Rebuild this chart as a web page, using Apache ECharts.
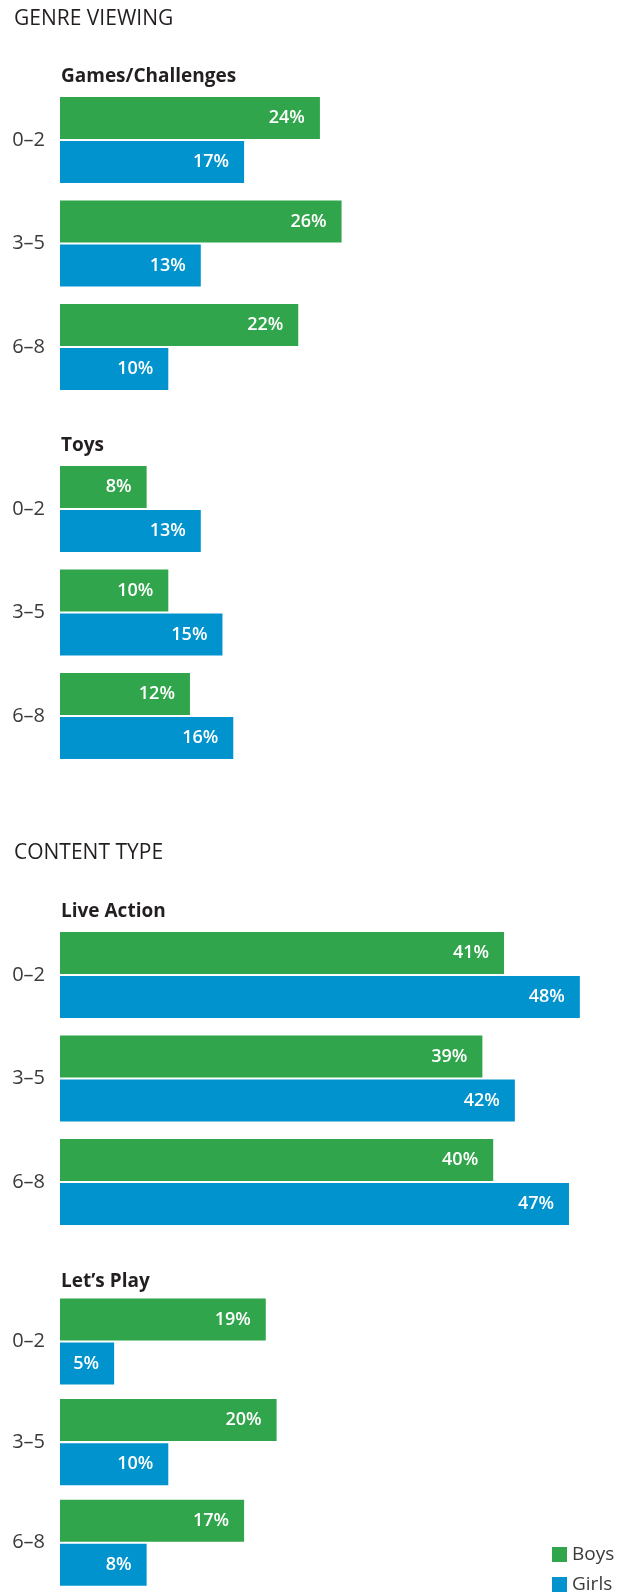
<!DOCTYPE html>
<html>
<head>
<meta charset="utf-8">
<script src="https://cdn.jsdelivr.net/npm/echarts@6/dist/echarts.min.js"></script>
<style>
html,body{margin:0;padding:0;background:#fff;}
#c{width:619px;height:1593px;}
</style>
</head>
<body>
<div id="c"></div>
<script>
const ageGroups = ['0–2', '3–5', '6–8'];
const sectionTitles = ['GENRE VIEWING', 'CONTENT TYPE'];
const panelTitles = ['Games/Challenges', 'Toys', 'Live Action', 'Let’s Play'];
const gamesBoys = [24, 26, 22];
const gamesGirls = [17, 13, 10];
const toysBoys = [8, 10, 12];
const toysGirls = [13, 15, 16];
const liveBoys = [41, 39, 40];
const liveGirls = [48, 42, 47];
const playBoys = [19, 20, 17];
const playGirls = [5, 10, 8];
const seriesNames = ['Boys', 'Girls'];

const panels = [
  { boys: gamesBoys, girls: gamesGirls, top: 88.25, titleY: 75 },
  { boys: toysBoys, girls: toysGirls, top: 457.25, titleY: 444 },
  { boys: liveBoys, girls: liveGirls, top: 923.25, titleY: 910 },
  { boys: playBoys, girls: playGirls, top: 1291.25, titleY: 1280 }
];
const sectionY = [19, 853];

const GREEN = '#31a54b';
const BLUE = '#0093cd';
const FONT = '"Open Sans", "Noto Sans", sans-serif';

const grids = [], xAxes = [], yAxes = [], series = [], graphics = [];
panels.forEach((p, i) => {
  grids.push({ left: 60, width: 541.5, top: p.top, height: 310.5 });
  xAxes.push({ gridIndex: i, type: 'value', min: 0, max: 50, show: false });
  yAxes.push({
    gridIndex: i, type: 'category', data: ageGroups, inverse: true,
    axisLine: { show: false }, axisTick: { show: false }, splitLine: { show: false },
    axisLabel: { margin: 15, fontSize: 20, color: '#3a3a3a', fontFamily: FONT }
  });
  const lbl = {
    show: true, position: 'insideRight', distance: 15, formatter: '{c}%',
    color: '#fff', fontSize: 18, fontWeight: 600, fontFamily: FONT
  };
  series.push({
    name: seriesNames[0], type: 'bar', xAxisIndex: i, yAxisIndex: i,
    data: p.boys, barWidth: 42, barGap: '5%', itemStyle: { color: GREEN }, label: lbl, silent: true
  });
  series.push({
    name: seriesNames[1], type: 'bar', xAxisIndex: i, yAxisIndex: i,
    data: p.girls, barWidth: 42, barGap: '5%', itemStyle: { color: BLUE }, label: lbl, silent: true
  });
  graphics.push({
    type: 'text', left: 61, top: p.titleY - 8,
    style: { text: panelTitles[i], fontSize: 19, fontWeight: 'bold', fontFamily: FONT, fill: '#231f20' }
  });
});
sectionTitles.forEach((t, i) => {
  graphics.push({
    type: 'text', left: 14, top: sectionY[i] - 10,
    style: { text: t, fontSize: 21, fontFamily: FONT, fill: '#231f20' }
  });
});

const legendCommon = {
  orient: 'vertical', left: 552, padding: 0, icon: 'rect', itemWidth: 15, itemHeight: 15,
  textStyle: { fontSize: 19, color: '#3a3a3a', fontFamily: FONT }
};

const chart = echarts.init(document.getElementById('c'), null, { renderer: 'canvas' });
chart.setOption({
  animation: false,
  backgroundColor: '#fff',
  grid: grids,
  xAxis: xAxes,
  yAxis: yAxes,
  series: series,
  graphic: graphics,
  legend: [
    Object.assign({}, legendCommon, { data: [seriesNames[0]], top: 1545 }),
    Object.assign({}, legendCommon, { data: [seriesNames[1]], top: 1575 })
  ]
});
</script>
</body>
</html>
